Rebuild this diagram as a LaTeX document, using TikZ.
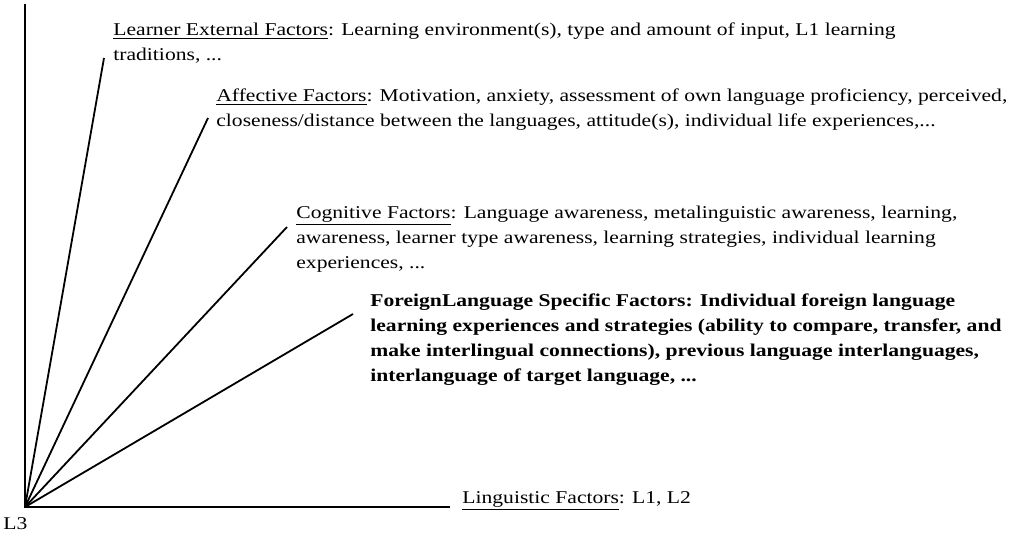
\documentclass[tikz,border=0pt]{standalone}
\usepackage{fontspec}
\setmainfont{Liberation Serif}[FakeStretch=1.2]
\usetikzlibrary{positioning}

\begin{document}
\begin{tikzpicture}[
  x=0.5pt,
  y=-0.5pt,
  factor/.style={
    anchor=base west,
    align=left,
    inner sep=0pt,
    font=\fontsize{9pt}{12.5pt}\selectfont
  },
  ray/.style={
    line width=0.9pt,
    line cap=butt
  }]
  \useasboundingbox (0,0) rectangle (1035,536);
  % axes and rays
  \coordinate (o) at (25,507);
  \coordinate (top) at (25,4);
  \coordinate (right) at (450,507);
  \coordinate (rlearner) at (104,58);
  \coordinate (raffective) at (208,118);
  \coordinate (rcognitive) at (287,227);
  \coordinate (rforeign) at (353,314);
  % factor labels (placed at the baseline of their last line)
  \node[factor] (learner) at (113,60)
    {\underline{Learner External Factors}: Learning environment(s), type and amount of input, L1 learning\\
     traditions, ...};
  \node[factor] (affective) at (216,126)
    {\underline{Affective Factors}: Motivation, anxiety, assessment of own language proficiency, perceived,\\
     closeness/distance between the languages, attitude(s), individual life experiences,...};
  \node[factor] (cognitive) at (296,268)
    {\underline{Cognitive Factors}: Language awareness, metalinguistic awareness, learning,\\
     awareness, learner type awareness, learning strategies, individual learning\\
     experiences, ...};
  \node[factor,font=\fontsize{9pt}{12.5pt}\selectfont\bfseries] (foreign) at (370,381)
    {ForeignLanguage Specific Factors: Individual foreign language\\
     learning experiences and strategies (ability to compare, transfer, and\\
     make interlingual connections), previous language interlanguages,\\
     interlanguage of target language, ...};
  \node[factor] (linguistic) at (462,503)
    {\underline{Linguistic Factors}: L1, L2};
  \node[factor] (l3) at (3,529) {L3};
  \draw[ray] (top) -- (o) -- (right);
  \foreach \r in {rlearner,raffective,rcognitive,rforeign}
    \draw[ray] (o) -- (\r);
\end{tikzpicture}
\end{document}
